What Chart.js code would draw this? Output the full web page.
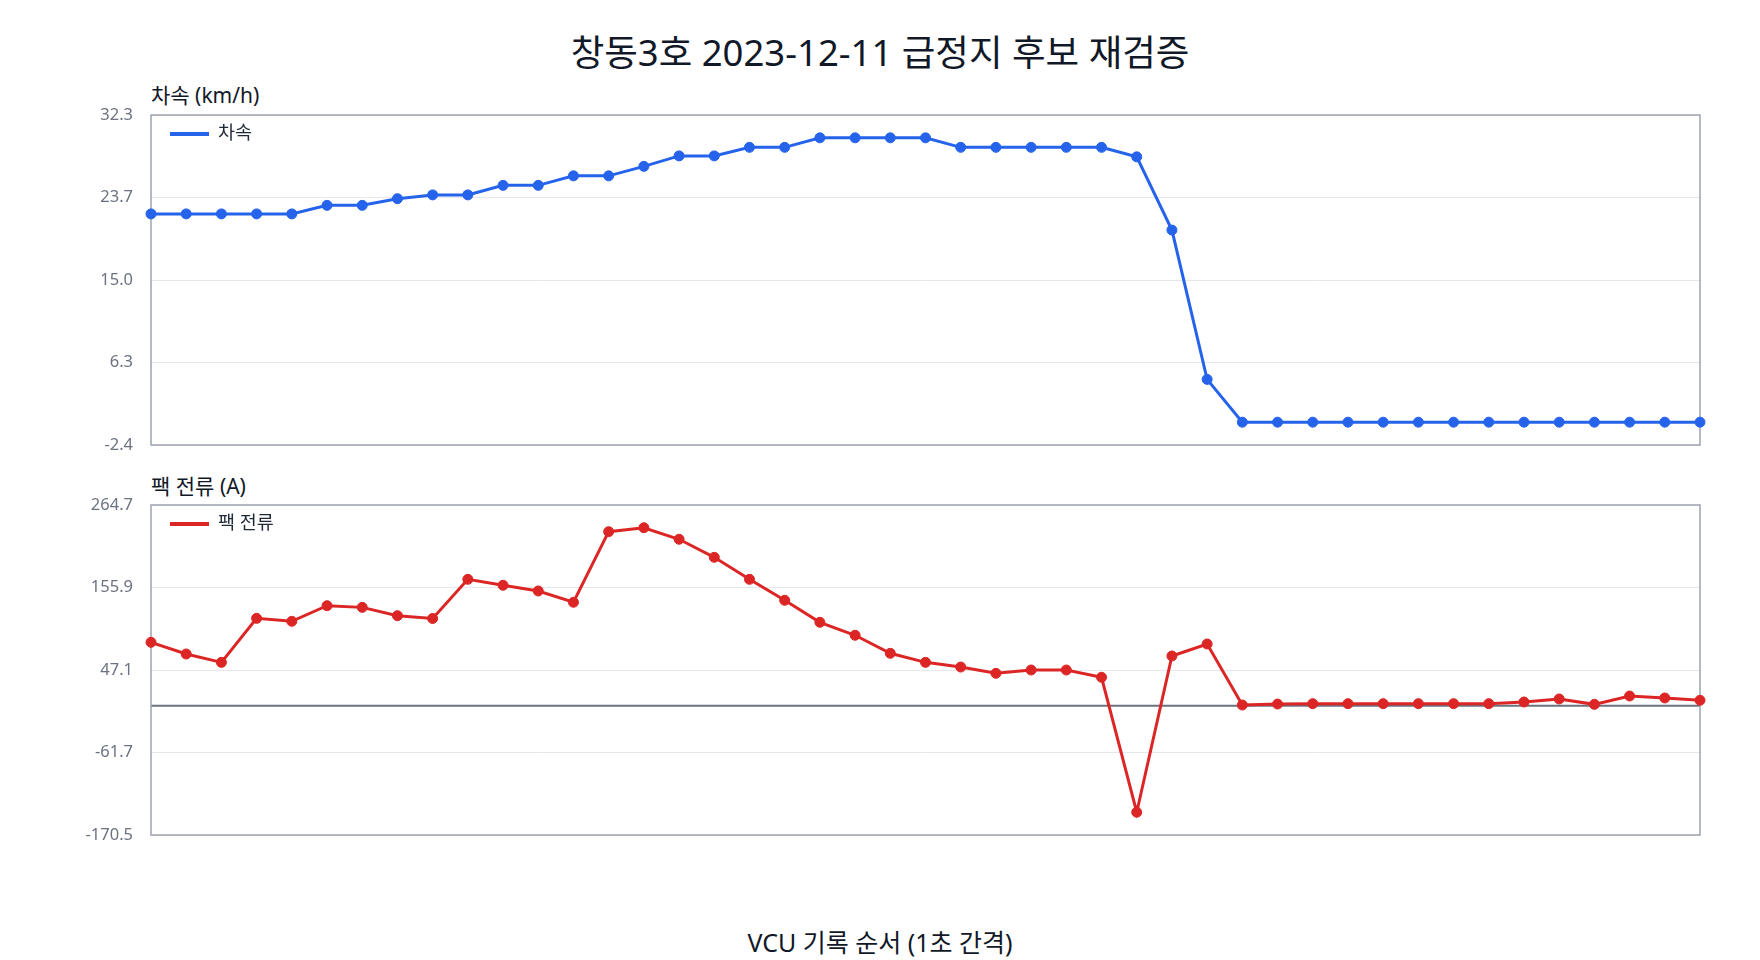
<!DOCTYPE html>
<html lang="ko">
<head>
<meta charset="utf-8">
<title>창동3호 2023-12-11 급정지 후보 재검증</title>
<script src="https://cdn.jsdelivr.net/npm/chart.js@4.4.1/dist/chart.umd.min.js"></script>
<style>
    html, body { margin: 0; padding: 0; background: #ffffff; }
    body {
        width: 1760px; height: 960px; position: relative; overflow: hidden;
        font-family: 'Noto Sans', 'Noto Sans CJK KR', sans-serif;
    }
    .main-title {
        position: absolute; left: 0; width: 1760px; top: 28px;
        text-align: center; font-size: 36.5px; line-height: 48px; color: #111827;
    }
    .panel-title {
        position: absolute; left: 151px; font-size: 21px; line-height: 26px; color: #111827;
    }
    .x-title {
        position: absolute; left: 0; width: 1760px; top: 927px;
        text-align: center; font-size: 25px; line-height: 30px; color: #111827;
    }
    .panel { position: absolute; left: 0; width: 1760px; height: 360px; }
</style>
</head>
<body>
<div class="main-title">창동3호 2023-12-11 급정지 후보 재검증</div>
<div class="panel-title" style="top: 82px;">차속 (km/h)</div>
<div class="panel" style="top: 100px;"><canvas id="speedChart"></canvas></div>
<div class="panel-title" style="top: 473px;">팩 전류 (A)</div>
<div class="panel" style="top: 490px;"><canvas id="currentChart"></canvas></div>
<div class="x-title">VCU 기록 순서 (1초 간격)</div>

<script>
// VCU 기록 순번 (1초 간격)
const recordIndex = [
    1, 2, 3, 4, 5, 6, 7, 8, 9, 10, 11, 12, 13, 14, 15,
    16, 17, 18, 19, 20, 21, 22, 23, 24, 25, 26, 27, 28, 29, 30,
    31, 32, 33, 34, 35, 36, 37, 38, 39, 40, 41, 42, 43, 44, 45
];

// 차속 (km/h)
const speedValues = [
    21.9, 21.9, 21.9, 21.9, 21.9, 22.8, 22.8, 23.5, 23.9, 23.9, 24.9, 24.9, 25.9, 25.9, 26.9,
    28.0, 28.0, 28.9, 28.9, 29.9, 29.9, 29.9, 29.9, 28.9, 28.9, 28.9, 28.9, 28.9, 27.9, 20.2,
    4.5, 0, 0, 0, 0, 0, 0, 0, 0, 0, 0, 0, 0, 0, 0
];

// 팩 전류 (A)
const currentValues = [
    83.6, 68.2, 57.2, 115.2, 111.3, 131.9, 129.7, 118.7, 115.0, 166.7, 158.8, 151.3, 136.4, 229.5, 234.7,
    219.5, 195.7, 166.7, 139.0, 110.0, 92.9, 69.1, 57.2, 51.0, 42.7, 47.1, 47.1, 37.5, -140.5, 65.6,
    81.4, 0.9, 2.2, 2.7, 2.7, 2.7, 2.7, 2.7, 2.7, 4.9, 8.9, 1.8, 12.8, 10.2, 7.1
];

// 축 범위와 눈금 라벨
const speedRange = [-2.4, 32.3];
const speedTickLabels = ['-2.4', '6.3', '15.0', '23.7', '32.3'];
const currentRange = [-170.5, 264.7];
const currentTickLabels = ['-170.5', '-61.7', '47.1', '155.9', '264.7'];

const FONT = "'Noto Sans', 'Noto Sans CJK KR', sans-serif";
Chart.defaults.font.family = FONT;
Chart.defaults.animation = false;

// 플롯 테두리 + (선택) 0 기준선 + 내부 범례
const panelDecor = {
    id: 'panelDecor',
    beforeDatasetsDraw(chart, args, opts) {
        const { ctx, chartArea: a } = chart;
        ctx.save();
        if (opts.zeroLine) {
            const y = chart.scales.y.getPixelForValue(0);
            ctx.strokeStyle = '#6b7280';
            ctx.lineWidth = 2;
            ctx.beginPath();
            ctx.moveTo(a.left, y);
            ctx.lineTo(a.right, y);
            ctx.stroke();
        }
        ctx.strokeStyle = '#9ca3af';
        ctx.lineWidth = 1.5;
        ctx.strokeRect(a.left, a.top, a.right - a.left, a.bottom - a.top);
        ctx.restore();
    },
    afterDatasetsDraw(chart, args, opts) {
        const { ctx, chartArea: a } = chart;
        const ds = chart.data.datasets[0];
        ctx.save();
        ctx.strokeStyle = ds.borderColor;
        ctx.lineWidth = 4;
        ctx.beginPath();
        ctx.moveTo(a.left + 19, a.top + 19);
        ctx.lineTo(a.left + 58, a.top + 19);
        ctx.stroke();
        ctx.fillStyle = '#1f2937';
        ctx.font = '18.5px ' + FONT;
        ctx.textBaseline = 'middle';
        ctx.fillText(ds.label, a.left + 67, a.top + 19);
        ctx.restore();
    }
};

function makePanel(canvasId, label, values, color, range, tickLabels, zeroLine) {
    const [min, max] = range;
    return new Chart(document.getElementById(canvasId), {
        type: 'line',
        data: {
            labels: recordIndex,
            datasets: [{
                label: label,
                data: values,
                borderColor: color,
                backgroundColor: color,
                borderWidth: 3,
                pointRadius: 5,
                pointBorderWidth: 1,
                pointBackgroundColor: color,
                pointBorderColor: color,
                tension: 0,
                clip: false
            }]
        },
        options: {
            responsive: true,
            maintainAspectRatio: false,
            layout: { padding: { top: 15, bottom: 15, left: 0, right: 60 } },
            plugins: {
                legend: { display: false },
                tooltip: { enabled: false },
                panelDecor: { zeroLine: zeroLine }
            },
            scales: {
                x: { display: false, offset: false },
                y: {
                    min: min,
                    max: max,
                    border: { display: false },
                    grid: { color: '#e5e7eb', lineWidth: 1, drawTicks: false },
                    ticks: {
                        color: '#6b7280',
                        padding: 18,
                        font: { size: 16.5 },
                        callback: (v, i) => tickLabels[i]
                    },
                    afterBuildTicks(scale) {
                        const step = (max - min) / (tickLabels.length - 1);
                        scale.ticks = tickLabels.map((_, i) => ({ value: min + i * step }));
                    },
                    afterFit(scale) {
                        scale.width = 151;
                        scale.paddingTop = 0;
                        scale.paddingBottom = 0;
                    }
                }
            }
        },
        plugins: [panelDecor]
    });
}

makePanel('speedChart', '차속', speedValues, '#2563eb', speedRange, speedTickLabels, false);
makePanel('currentChart', '팩 전류', currentValues, '#dc2626', currentRange, currentTickLabels, true);
</script>
</body>
</html>
